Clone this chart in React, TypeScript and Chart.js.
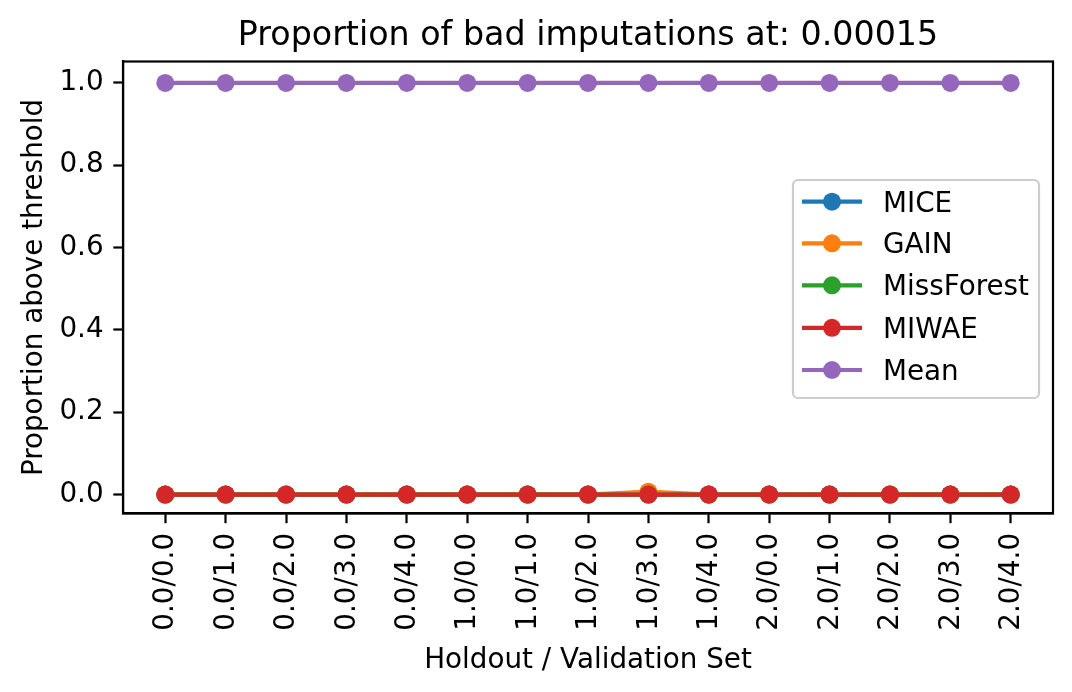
import React, { useEffect, useRef } from "react";
import { Chart, registerables } from "chart.js";

Chart.register(...registerables);

const categories = [
  "0.0/0.0", "0.0/1.0", "0.0/2.0", "0.0/3.0", "0.0/4.0",
  "1.0/0.0", "1.0/1.0", "1.0/2.0", "1.0/3.0", "1.0/4.0",
  "2.0/0.0", "2.0/1.0", "2.0/2.0", "2.0/3.0", "2.0/4.0",
];

const miceValues = [0, 0, 0, 0, 0, 0, 0, 0, 0, 0, 0, 0, 0, 0, 0];
const gainValues = [0, 0, 0, 0, 0, 0, 0, 0, 0.007, 0, 0, 0, 0, 0, 0];
const missForestValues = [0, 0, 0, 0, 0, 0, 0, 0, 0, 0, 0, 0, 0, 0, 0];
const miwaeValues = [0, 0, 0, 0, 0, 0, 0, 0, 0, 0, 0, 0, 0, 0, 0];
const meanValues = [1, 1, 1, 1, 1, 1, 1, 1, 1, 1, 1, 1, 1, 1, 1];

const seriesNames = ["MICE", "GAIN", "MissForest", "MIWAE", "Mean"];
const seriesColors = ["#1f77b4", "#ff7f0e", "#2ca02c", "#d62728", "#9467bd"];
const seriesValues = [miceValues, gainValues, missForestValues, miwaeValues, meanValues];

const yTickValues = [0, 0.2, 0.4, 0.6, 0.8, 1.0];

const titleText = "Proportion of bad imputations at: 0.00015";
const xTitle = "Holdout / Validation Set";
const yTitle = "Proportion above threshold";

const FONT = "'DejaVu Sans', sans-serif";
const LABEL_SIZE = 27.8;
const TITLE_SIZE = 33.3;
const LW = 2.2;
const TICK_LEN = 9.7;
const POINT_R = 9;
const LINE_W = 4.2;

const overlayPlugin = {
  id: "overlay",
  afterDraw(chart: any) {
    const { ctx, chartArea } = chart;
    const { left, right, top, bottom } = chartArea;
    ctx.save();
    // frame
    ctx.strokeStyle = "#000";
    ctx.lineWidth = LW;
    ctx.strokeRect(left, top, right - left, bottom - top);
    // title
    ctx.fillStyle = "#000";
    ctx.font = `${TITLE_SIZE}px ${FONT}`;
    ctx.textAlign = "center";
    ctx.textBaseline = "alphabetic";
    ctx.fillText(titleText, (left + right) / 2, 45);
    // legend
    const bx = 793, by = 180, bw = 246, bh = 218, r = 5;
    ctx.beginPath();
    ctx.moveTo(bx + r, by);
    ctx.lineTo(bx + bw - r, by);
    ctx.arcTo(bx + bw, by, bx + bw, by + r, r);
    ctx.lineTo(bx + bw, by + bh - r);
    ctx.arcTo(bx + bw, by + bh, bx + bw - r, by + bh, r);
    ctx.lineTo(bx + r, by + bh);
    ctx.arcTo(bx, by + bh, bx, by + bh - r, r);
    ctx.lineTo(bx, by + r);
    ctx.arcTo(bx, by, bx + r, by, r);
    ctx.closePath();
    ctx.fillStyle = "rgba(255,255,255,0.8)";
    ctx.fill();
    ctx.strokeStyle = "#cccccc";
    ctx.lineWidth = LW;
    ctx.stroke();
    const rowY = [201.7, 243.3, 285.3, 327.8, 370];
    chart.data.datasets.forEach((ds: any, i: number) => {
      const cy = rowY[i];
      ctx.strokeStyle = ds.borderColor;
      ctx.lineWidth = LINE_W;
      ctx.beginPath();
      ctx.moveTo(802, cy);
      ctx.lineTo(862, cy);
      ctx.stroke();
      ctx.fillStyle = ds.borderColor;
      ctx.beginPath();
      ctx.arc(832, cy, POINT_R, 0, Math.PI * 2);
      ctx.fill();
      ctx.fillStyle = "#000";
      ctx.font = `${LABEL_SIZE}px ${FONT}`;
      ctx.textAlign = "left";
      ctx.textBaseline = "alphabetic";
      ctx.fillText(ds.label, 883, cy + 10.1);
    });
    ctx.restore();
  },
};

export default function App() {
  const canvasRef = useRef<HTMLCanvasElement | null>(null);

  useEffect(() => {
    document.body.style.margin = "0";
    const canvas = canvasRef.current;
    if (!canvas) return;
    Chart.defaults.font.family = FONT;
    const datasets = seriesNames.map((name, i) => ({
      label: name,
      data: seriesValues[i].map((v, j) => ({ x: j, y: v })),
      borderColor: seriesColors[i],
      backgroundColor: seriesColors[i],
      pointBackgroundColor: seriesColors[i],
      pointBorderColor: seriesColors[i],
      pointBorderWidth: 0,
      pointRadius: POINT_R,
      borderWidth: LINE_W,
      tension: 0,
      fill: false,
      order: seriesNames.length - i,
    }));
    const chart = new Chart(canvas, {
      type: "line",
      data: { datasets },
      options: {
        animation: false,
        responsive: false,
        devicePixelRatio: 1,
        layout: { padding: { left: 0, right: 19, top: 61.5, bottom: 0 } },
        plugins: { legend: { display: false }, tooltip: { enabled: false }, title: { display: false } },
        scales: {
          x: {
            type: "linear",
            min: -0.7,
            max: 14.7,
            afterBuildTicks: (s: any) => {
              s.ticks = categories.map((_, i) => ({ value: i }));
            },
            afterFit: (s: any) => {
              s.height = 178.5;
            },
            ticks: {
              autoSkip: false,
              minRotation: 90,
              maxRotation: 90,
              padding: TICK_LEN,
              labelOffset: 1,
              color: "#000",
              font: { size: LABEL_SIZE },
              callback: (v: any) => categories[Math.round(Number(v))] ?? "",
            },
            grid: { drawOnChartArea: false, drawTicks: true, tickLength: TICK_LEN, tickColor: "#000", tickWidth: LW },
            border: { display: true, color: "#000", width: LW },
            title: { display: true, text: xTitle, color: "#000", font: { size: LABEL_SIZE }, padding: { top: 0, bottom: 15 } },
          },
          y: {
            type: "linear",
            min: -0.046,
            max: 1.052,
            afterBuildTicks: (s: any) => {
              s.ticks = yTickValues.map((v) => ({ value: v }));
            },
            afterFit: (s: any) => {
              s.width = 123;
            },
            ticks: {
              padding: TICK_LEN,
              color: "#000",
              font: { size: LABEL_SIZE },
              callback: (v: any) => Number(v).toFixed(1),
            },
            grid: { drawOnChartArea: false, drawTicks: true, tickLength: TICK_LEN, tickColor: "#000", tickWidth: LW },
            border: { display: true, color: "#000", width: LW },
            title: { display: true, text: yTitle, color: "#000", font: { size: LABEL_SIZE }, padding: { top: 18, bottom: 0 } },
          },
        },
      },
      plugins: [overlayPlugin],
    });
    return () => chart.destroy();
  }, []);

  return (
    <div style={{ width: 1072, height: 692, background: "#fff" }}>
      <canvas ref={canvasRef} width={1072} height={692} style={{ display: "block" }} />
    </div>
  );
}
